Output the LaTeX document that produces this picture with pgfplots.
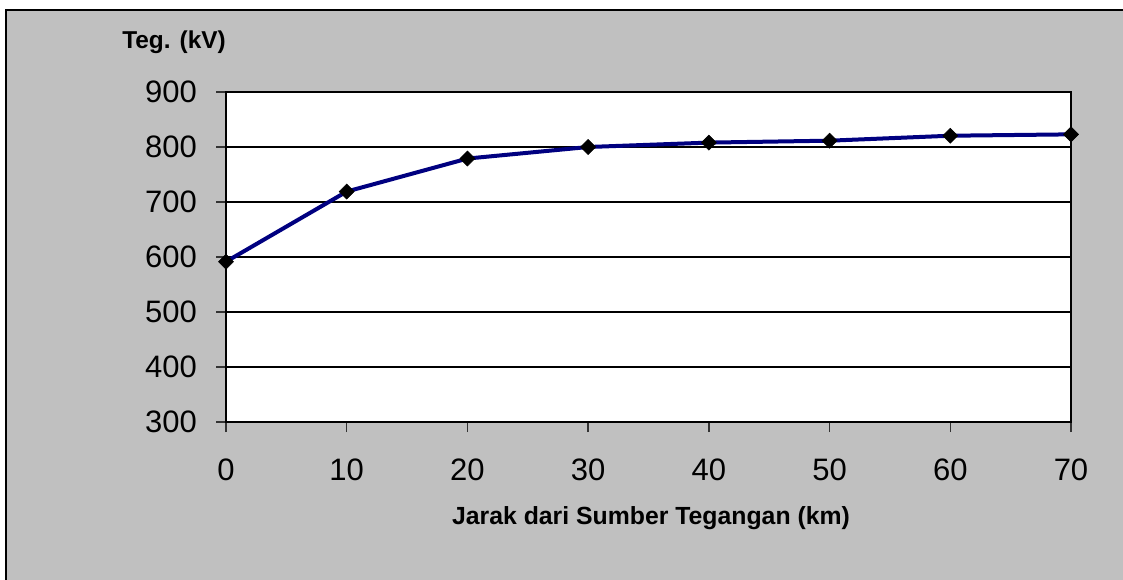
\documentclass[border=0pt]{standalone}
\usepackage{pgfplots}
\pgfplotsset{compat=1.18}
\usepackage{fontspec}
\setmainfont{Liberation Sans}
\definecolor{bggray}{RGB}{192,192,192}
\definecolor{navyline}{RGB}{0,0,128}
\begin{document}
\begin{tikzpicture}
\useasboundingbox (0pt,0pt) rectangle (561.5pt,289.5pt);
\clip (0pt,0pt) rectangle (561.5pt,289.5pt);
\fill[white] (0pt,0pt) rectangle (561.5pt,289.5pt);
\fill[bggray] (3pt,-5pt) rectangle (570pt,284.5pt);
\draw[line width=1.2pt] (3pt,-5pt) -- (3pt,284.5pt) -- (570pt,284.5pt);
\begin{axis}[
  at={(113pt,78.5pt)}, anchor=south west,
  scale only axis, width=422.5pt, height=165pt,
  xmin=0, xmax=70, ymin=300, ymax=900,
  xtick={0,10,...,70}, ytick={300,400,...,900},
  xtick pos=bottom, ytick pos=left,
  axis background/.style={fill=white},
  axis line style={line width=0.8pt, black},
  ymajorgrids, grid style={line width=1pt, black},
  tick align=outside, major tick length=5pt,
  tick style={line width=0.7pt, black!80},
  /pgf/number format/assume math mode=true,
  tick label style={font=\fontsize{15.5}{18}\selectfont},
  xticklabel style={yshift=-10pt},
  yticklabel style={xshift=-6pt},
  clip=false,
]
\addplot[navyline, line width=2pt, mark=square*, mark size=2.65pt,
  mark options={rotate=45, fill=black, draw=black, line width=0.3pt}]
  coordinates {(0,591.5) (10,719) (20,779) (30,800) (40,808) (50,811.5) (60,820.5) (70,823)};
\end{axis}
\node[font=\bfseries\fontsize{12.2}{14}\selectfont] at (87pt,268.5pt) {Teg. (kV)};
\node[font=\bfseries\fontsize{12.4}{14}\selectfont] at (325.5pt,30.5pt) {Jarak dari Sumber Tegangan (km)};
\end{tikzpicture}
\end{document}
